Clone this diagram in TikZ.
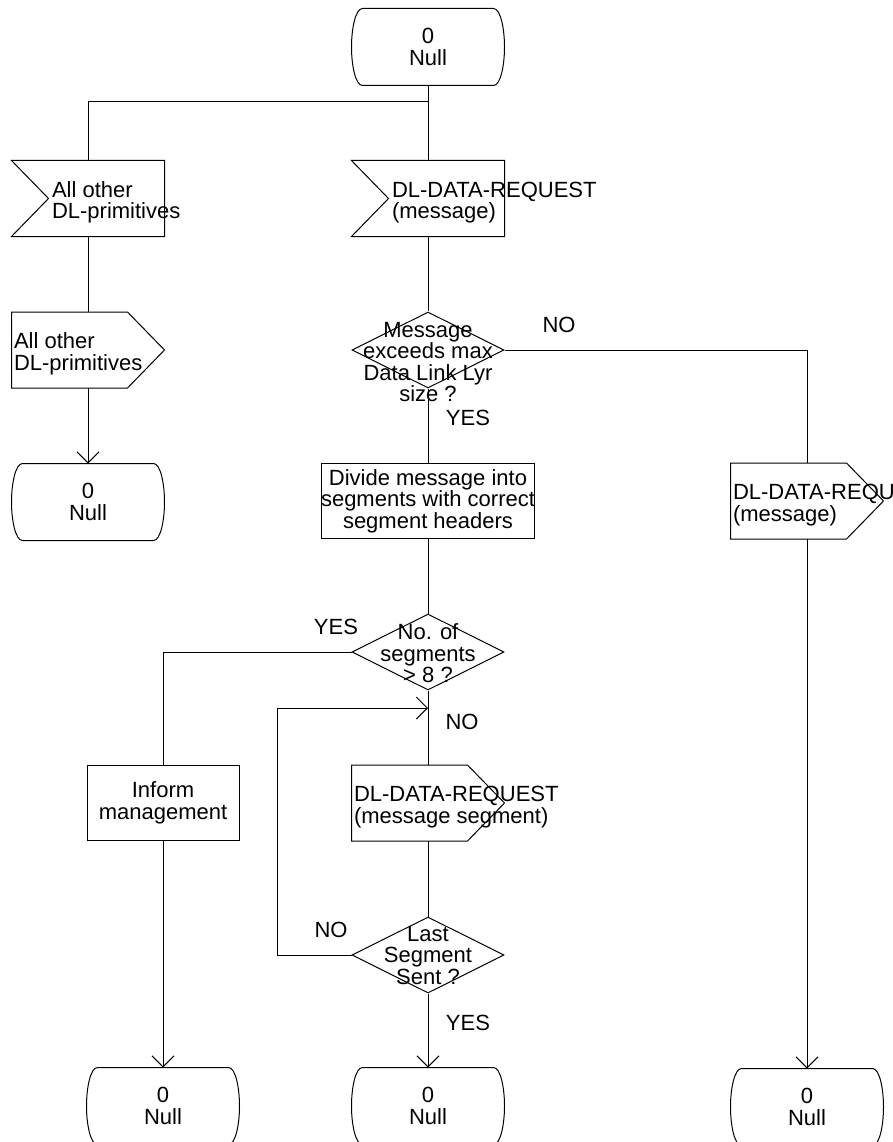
\documentclass[tikz,border=0pt]{standalone}
\usepackage{fontspec}
\setmainfont{Liberation Sans}
\usetikzlibrary{arrows.meta,positioning,shapes.geometric}
\begin{document}
\begin{tikzpicture}[x=1pt,y=-1pt,line width=1pt,>={Straight Barb[length=11pt,width=22pt]},
    font=\fontsize{22}{21.5}\selectfont,
    box/.style={minimum width=152pt,minimum height=75pt,inner sep=0pt},
    proc/.style={box,draw,align=center},
    state/.style={box,minimum height=76pt,align=center},
    decision/.style={diamond,draw,minimum width=152pt,minimum height=76pt,inner sep=0pt},
    txt/.style={inner sep=0pt,align=left,yshift=-4pt},
    dtxt/.style={inner sep=0pt,align=center},
    lbl/.style={inner sep=0pt}]
  \useasboundingbox (0,0) rectangle (893,1142);
  % states
  \node[state] (s0) at (428,47) {0\\Null};
  \node[state] (s1) at (88,502) {0\\Null};
  \node[state] (s2) at (163,1106) {0\\Null};
  \node[state] (s3) at (428,1106) {0\\Null};
  \node[state] (s4) at (807,1107) {0\\Null};
  \foreach \n in {s0,s1,s2,s3,s4}
    \draw ([xshift=11pt]\n.north west) -- ([xshift=-11pt]\n.north east)
      .. controls ([xshift=-4pt]\n.north east) and ([yshift=-20pt]\n.north east) .. (\n.east)
      .. controls ([yshift=20pt]\n.south east) and ([xshift=-4pt]\n.south east) .. ([xshift=-11pt]\n.south east)
      -- ([xshift=11pt]\n.south west)
      .. controls ([xshift=4pt]\n.south west) and ([yshift=20pt]\n.south west) .. (\n.west)
      .. controls ([yshift=-20pt]\n.north west) and ([xshift=4pt]\n.north west) .. cycle;
  % inputs
  \node[box] (i1) at (88,198.5) {};
  \node[box] (i2) at (428,198.5) {};
  \foreach \n in {i1,i2}
    \draw (\n.north west) -- (\n.north east) -- (\n.south east) -- (\n.south west)
      -- ([xshift=37pt]\n.west) -- cycle;
  \node[txt,right=40pt of i1.west] (i1t) {All other\\DL-primitives};
  \node[txt,right=40pt of i2.west] (i2t) {DL-DATA-REQUEST\\(message)};
  % outputs
  \node[box] (o1) at (88,350) {};
  \node[box] (o2) at (428,803) {};
  \node[box] (o3) at (807,501) {};
  \foreach \n in {o1,o2,o3}
    \draw (\n.north west) -- ([xshift=-37pt]\n.north east) -- (\n.east)
      -- ([xshift=-37pt]\n.south east) -- (\n.south west) -- cycle;
  \node[txt,right=2pt of o1.west] (o1t) {All other\\DL-primitives};
  \node[txt,right=2pt of o2.west] (o2t) {DL-DATA-REQUEST\\(message segment)};
  \node[txt,right=2pt of o3.west] (o3t) {DL-DATA-REQUEST\\(message)};
  % decisions
  \node[decision] (d1) at (428,350) {};
  \node[decision] (d2) at (428,652) {};
  \node[decision] (d3) at (428,955) {};
  \node[dtxt,below=10pt of d1.north] (d1t) {Message\\exceeds max\\Data Link Lyr\\size ?};
  \node[dtxt,below=10pt of d2.north] (d2t) {No. of\\segments\\> 8 ?};
  \node[dtxt,below=9pt of d3.north] (d3t) {Last\\Segment\\Sent ?};
  % tasks
  \node[proc] (p1) at (428,501) {Divide message into\\segments with correct\\segment headers};
  \node[proc] (p2) at (163,803) {Inform\\management};
  % connectors
  \coordinate (j) at (428,102);
  \coordinate (c) at (277,708);
  \coordinate (m) at (428,708);
  \draw (s0) -- (i2);
  \draw (j) -| (i1.north);
  \draw (i1) -- (o1);
  \draw[->] (o1) -- (s1);
  \draw (i2) -- (d1);
  \draw (d1) -- (p1);
  \draw (d1.east) -| (o3.north);
  \draw[->] (o3) -- (s4);
  \draw (p1) -- (d2);
  \draw (d2.west) -| (p2.north);
  \draw[->] (p2) -- (s2);
  \draw (d2) -- (o2);
  \draw (o2) -- (d3);
  \draw[->] (d3) -- (s3);
  \draw[->] (d3.west) -| (c) -- (m);
  % labels
  \node[lbl] (n1) at (559,325) {NO};
  \node[lbl] (y1) at (468,418) {YES};
  \node[lbl] (y2) at (336,627) {YES};
  \node[lbl] (n2) at (462,722) {NO};
  \node[lbl] (n3) at (331,930) {NO};
  \node[lbl] (y3) at (468,1023) {YES};
\end{tikzpicture}
\end{document}
